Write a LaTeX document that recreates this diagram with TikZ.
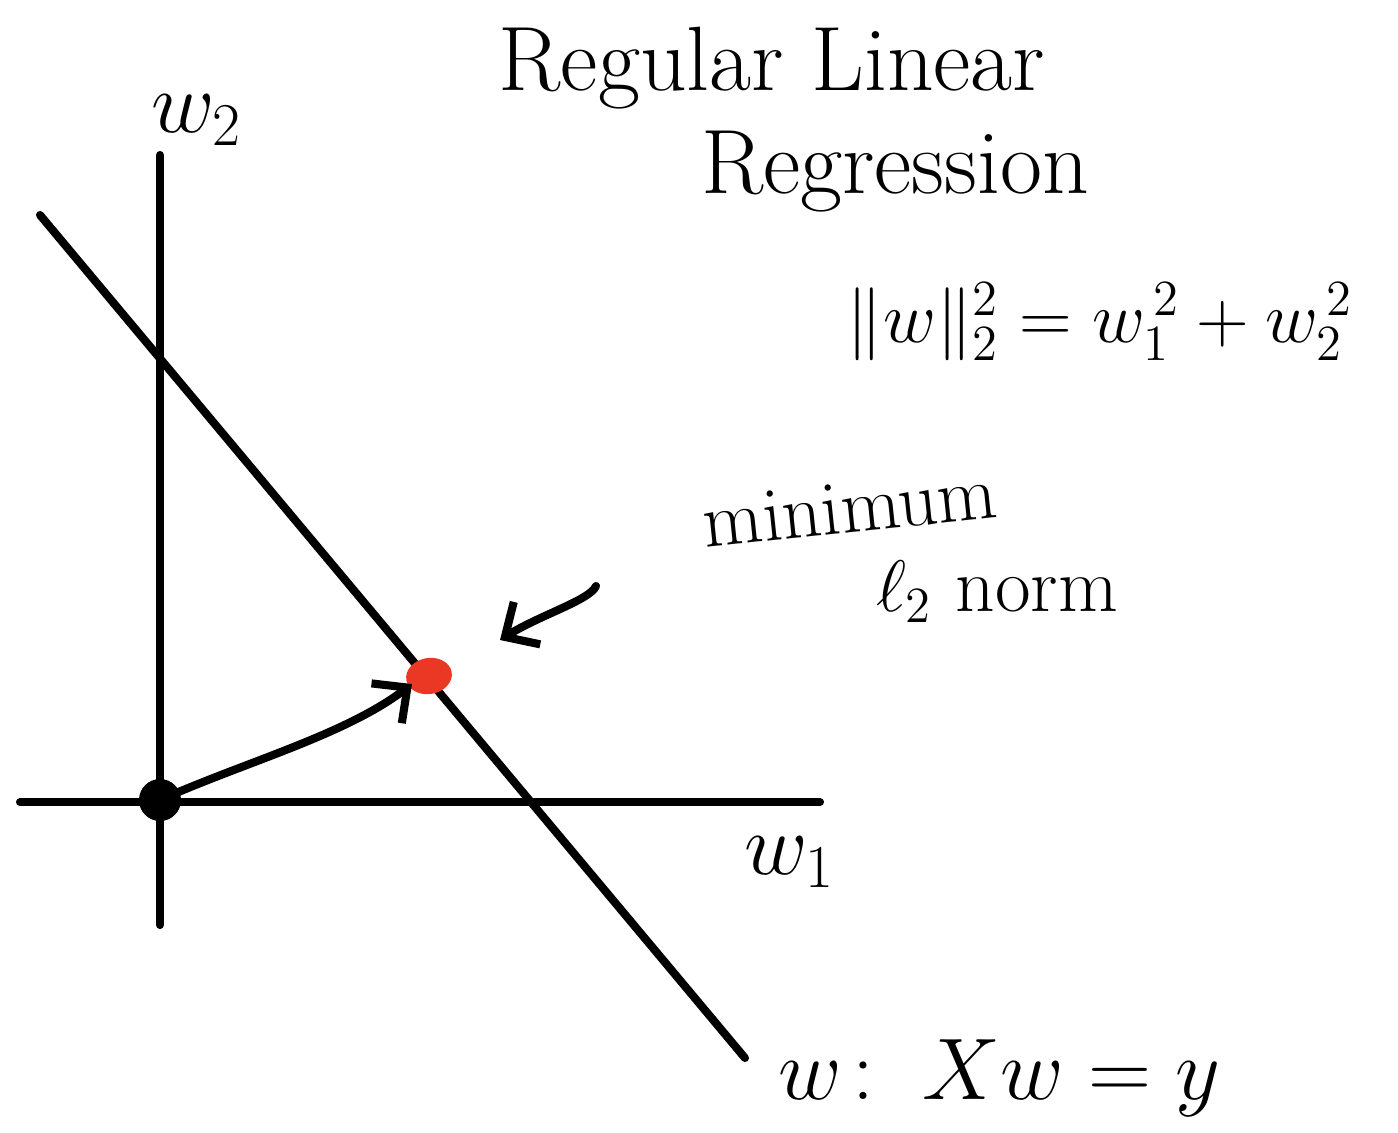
\documentclass[tikz,border=0pt]{standalone}
\usepackage{amsmath,amssymb}
\usepackage{xcolor}
\usepackage{tikz}
\usetikzlibrary{positioning,arrows.meta,calc,shapes.geometric}
\definecolor{dotred}{RGB}{234,56,36}

\begin{document}
\begin{tikzpicture}[
  x=0.01cm, y=-0.01cm,
  stroke/.style={line width=2.3pt, line cap=round, black},
  arr/.style={stroke, -{Straight Barb[length=2.6mm, width=5mm, line width=2.3pt]}},
  lab/.style={inner sep=0pt, font=\fontsize{24}{28}\selectfont},
  small/.style={inner sep=0pt, font=\fontsize{22}{26}\selectfont},
  big/.style={inner sep=0pt, font=\fontsize{26}{31}\selectfont},
]
\useasboundingbox (0,0) rectangle (1398,1132);
% ---- title ----
\node[big] (title1) at (772,68) {Regular Linear};
\node[big] (title2) at (895,172) {Regression};
\node[small] (norm) at (1100,322) {$\lVert w\rVert_2^2 = w_1^{\,2} + w_2^{\,2}$};
% ---- axes ----
\coordinate (ytop) at (160,155);
\coordinate (ybot) at (160,925);
\coordinate (xlft) at (20,802);
\coordinate (xrgt) at (820,802);
\draw[stroke] (ytop) -- (ybot);
\draw[stroke] (xlft) -- (xrgt);
\node[lab] (w2) at (197,120) {$w_2$};
\node[lab] (w1) at (790,862) {$w_1$};
% ---- solution set ----
\coordinate (lstart) at (40,215);
\coordinate (lend) at (745,1058);
\draw[stroke] (lstart) -- (lend);
\node[lab, anchor=west] (set) at (778,1078) {$w\!:\; Xw = y$};
% ---- points ----
\node[circle, fill=black, minimum size=0.42cm, inner sep=0pt] (orig) at (160,800) {};
\node[ellipse, fill=dotred, minimum width=0.46cm, minimum height=0.36cm, inner sep=0pt, rotate=10] (minpt) at (429,676) {};
\draw[arr] (orig.center) .. controls (245,762) and (345,735) .. (412,684);
% ---- annotation ----
\node[small, rotate=6] (minlab) at (850,508) {minimum};
\node[small] (l2lab) at (997,592) {$\ell_2$ norm};
\coordinate (astart) at (596,586);
\coordinate (aend) at (500,640);
\draw[arr] (astart) .. controls (590,600) and (540,615) .. (aend);
\end{tikzpicture}
\end{document}
